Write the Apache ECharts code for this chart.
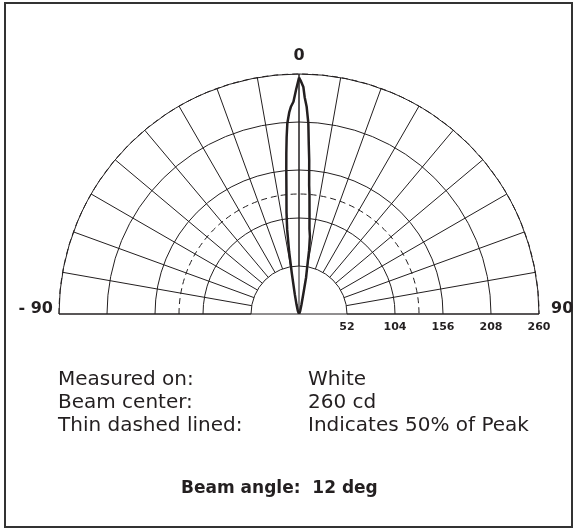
<!DOCTYPE html>
<html>
<head>
<meta charset="utf-8">
<script src="https://cdn.jsdelivr.net/npm/echarts@6/dist/echarts.min.js"></script>
<style>
  html, body { margin: 0; padding: 0; background: #fff; }
</style>
</head>
<body>
<div id="main" style="width: 576px;height:531px;"></div>
<script>
  // angle labels shown round the half circle
  var angleTicks = [-90, 0, 90];
  // rings (cd) and spokes (deg)
  var ringMin = 52;
  var ringMax = 260;
  var ringStep = 52;
  var spokeStep = 10;
  var halfPeak = 130;

  // measured beam profile, angle in deg / intensity in cd
  var beamAngles = [-90, -30, -20, -15, -12, -10, -9, -8, -7, -6, -5, -4.5, -4, -3.5, -2.75, -2.2, -1.5, -0.75,
    0, 0.5, 1.1, 1.5, 2.1, 2.8, 3.3, 3.8, 4.5, 5, 6, 7, 8, 9, 10, 11, 12, 15, 20, 30, 90];
  var beamValues = [0, 1, 4, 10, 22, 45, 68, 92, 111, 130, 158, 175, 192, 207, 219, 225, 230, 243,
    256, 252, 246, 235, 225, 207, 184, 167, 140, 130, 109, 93, 85, 70, 50, 40, 24, 10, 4, 1, 0];

  var infoLeft = ['Measured on:', 'Beam center:', 'Thin dashed lined:'];
  var infoRight = ['White', '260 cd', 'Indicates 50% of Peak'];
  var beamAngleText = 'Beam angle:  12 deg';

  var ink = '#231f20';
  var font = 'DejaVu Sans';

  var beamData = beamAngles.map(function (a, i) {
    return [beamValues[i], a];
  });

  var graphics = [{
    type: 'rect',
    shape: { x: 5, y: 3, width: 567, height: 524 },
    style: { fill: null, stroke: '#333', lineWidth: 2 },
    silent: true
  }];
  infoLeft.forEach(function (t, i) {
    graphics.push({
      type: 'text', left: 58, top: 370 + i * 23,
      style: { text: t, fill: ink, font: '20px "' + font + '"' }
    });
    graphics.push({
      type: 'text', left: 308, top: 370 + i * 23,
      style: { text: infoRight[i], fill: ink, font: '20px "' + font + '"' }
    });
  });
  graphics.push({
    type: 'text', left: 181, top: 480,
    style: { text: beamAngleText, fill: ink, font: 'bold 17px "' + font + '"' }
  });

  var myChart = echarts.init(document.getElementById('main'));
  var option = {
    backgroundColor: '#fff',
    animation: false,
    textStyle: { fontFamily: font },
    graphic: graphics,
    polar: [
      { center: [299, 314], radius: 240 },
      { center: [299, 314], radius: [48, 240] }
    ],
    angleAxis: [{
      polarIndex: 0,
      type: 'value',
      min: angleTicks[0],
      max: angleTicks[2],
      interval: 90,
      startAngle: 180,
      endAngle: 0,
      clockwise: true,
      axisLine: { show: false },
      axisTick: { show: false },
      axisLabel: {
        margin: 6,
        color: ink,
        fontWeight: 'bold',
        fontSize: 16,
        formatter: function (v) {
          if (v < 0) return '{l|- ' + Math.abs(v) + '}';
          if (v === 0) return '{t|0}';
          return '{r|' + v + '}';
        },
        rich: {
          l: { fontSize: 16, fontWeight: 'bold', color: ink, padding: [0, 0, 10, 0] },
          t: { fontSize: 16, fontWeight: 'bold', color: ink, padding: [0, 0, 4, 0] },
          r: { fontSize: 16, fontWeight: 'bold', color: ink, padding: [0, 0, 10, 6] }
        }
      },
      splitLine: { show: true, lineStyle: { color: ink, width: 1 } }
    }, {
      polarIndex: 1,
      type: 'value',
      min: -90,
      max: 90,
      interval: spokeStep,
      startAngle: 0,
      endAngle: 180,
      clockwise: false,
      axisLine: { show: false },
      axisTick: { show: false },
      axisLabel: { show: false },
      splitLine: { show: true, lineStyle: { color: ink, width: 1 } }
    }],
    radiusAxis: [{
      polarIndex: 0,
      type: 'value',
      min: 0,
      max: ringMax,
      interval: halfPeak,
      axisLine: { show: false },
      axisTick: { show: false },
      axisLabel: { show: false },
      splitLine: { show: true, lineStyle: { color: ink, width: 1, type: [6, 4] } }
    }, {
      polarIndex: 1,
      type: 'value',
      min: ringMin,
      max: ringMax,
      interval: ringStep,
      axisLine: { show: false },
      axisTick: { show: false },
      axisLabel: {
        show: true,
        showMinLabel: true,
        showMaxLabel: true,
        margin: -8,
        verticalAlign: 'top',
        color: ink,
        fontWeight: 'bold',
        fontSize: 11
      },
      splitLine: { show: true, lineStyle: { color: ink, width: 1 } }
    }],
    series: [{
      type: 'line',
      name: 'Beam',
      coordinateSystem: 'polar',
      polarIndex: 0,
      data: beamData,
      showSymbol: false,
      smooth: false,
      z: 5,
      lineStyle: { color: ink, width: 2.5 }
    }]
  };
  myChart.setOption(option);
</script>
</body>
</html>
